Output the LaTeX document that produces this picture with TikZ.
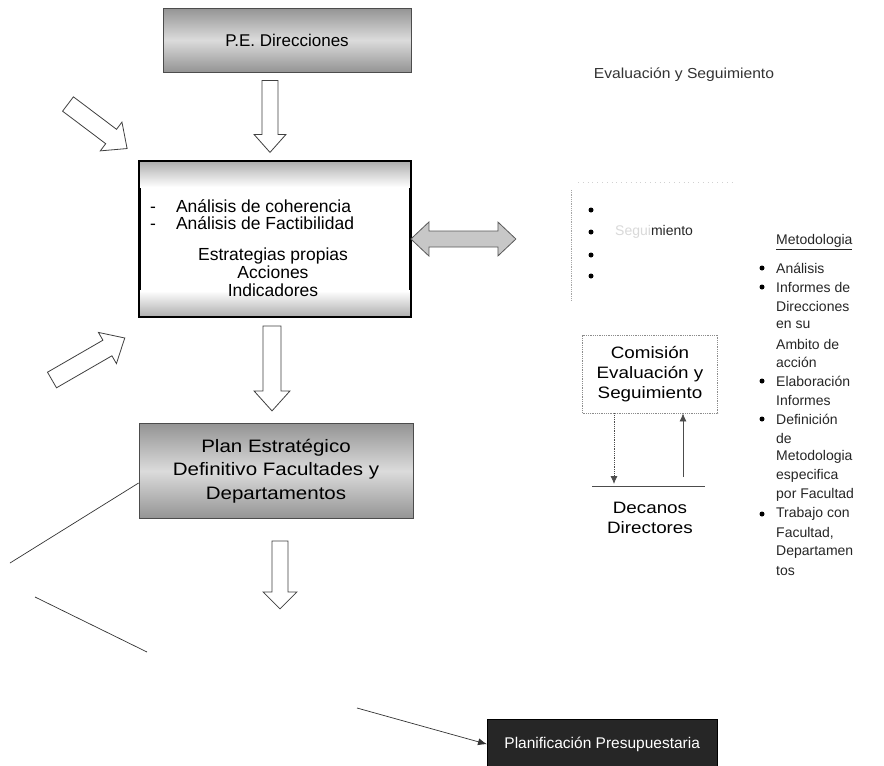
\documentclass[tikz,border=0pt]{standalone}
\usepackage{fontspec}
\setmainfont{Liberation Sans}
\newfontfamily\widefont[FakeStretch=1.14]{Liberation Sans}
\newfontfamily\semiwide[FakeStretch=1.08]{Liberation Sans}
\usetikzlibrary{calc,arrows.meta}
\tikzset{
  boxtxt/.style={font=\fontsize{17.5}{18}\selectfont, align=center, inner sep=0pt},
  sidetxt/.style={font=\fontsize{14}{18.8}\selectfont, inner sep=0pt, text=black!85},
  graybox/.style={draw=black!70, line width=0.8pt, top color=black!42, bottom color=black!42, middle color=black!14},
  mainbox/.style={draw=black, line width=1.8pt, fill=white},
  darkbox/.style={draw=black, fill=black!85, text=white},
  barrowstyle/.style={draw=black!75, line width=0.8pt, fill=white, line join=miter},
  darrowstyle/.style={draw=black!65, line width=0.8pt, fill=black!22},
  pics/barrow/.style n args={4}{code={
    \draw[barrowstyle] (0,-#2) -- ({#1-#4},-#2) -- ({#1-#4},-#3) -- (#1,0)
      -- ({#1-#4},#3) -- ({#1-#4},#2) -- (0,#2) -- cycle;}},
  pics/dbarrow/.style n args={4}{code={
    \draw[darrowstyle] (0,0) -- (#4,-#3) -- (#4,-#2) -- ({#1-#4},-#2) -- ({#1-#4},-#3)
      -- (#1,0) -- ({#1-#4},#3) -- ({#1-#4},#2) -- (#4,#2) -- (#4,#3) -- cycle;}},
  thinline/.style={draw=black!80, line width=0.7pt},
  bul/.style={circle, fill=black, inner sep=0pt, minimum size=5pt},
}
\begin{document}
\begin{tikzpicture}[x=1pt,y=-1pt]
\useasboundingbox[fill=white] (0,0) rectangle (884,766);

% P.E. box
\node[graybox, minimum width=248pt, minimum height=64pt, boxtxt, font=\fontsize{17}{18}\selectfont] (pe) at (287,40) {P.E. Direcciones};

% main box
\node[mainbox, minimum width=270pt, minimum height=154pt] (main) at (275,239) {};
\shade[top color=black!32, bottom color=white] (main.north west) rectangle ($(main.north east)+(0,26)$);
\shade[top color=white, bottom color=black!32] ($(main.south west)+(0,-26)$) rectangle (main.south east);
\draw[black, line width=1.8pt] (main.north west) rectangle (main.south east);
\node[boxtxt, anchor=west] (a1) at (150,206) {-\hspace{20pt}Análisis de coherencia};
\node[boxtxt, anchor=west] (a2) at (150,223) {-\hspace{20pt}Análisis de Factibilidad};
\node[boxtxt] (est) at (273,272) {Estrategias propias\\Acciones\\Indicadores};

% plan box
\node[graybox, minimum width=274pt, minimum height=95pt, boxtxt, font=\widefont\fontsize{18}{23.5}\selectfont] (plan) at (276,471)
  {Plan Estratégico\\Definitivo Facultades y\\Departamentos};

% presupuestaria
\node[darkbox, minimum width=230pt, minimum height=50pt, anchor=north west,
  font=\fontsize{15.5}{18}\selectfont] (pres) at (487,719) {Planificación Presupuestaria};

% block arrows
\pic[rotate=-90] at ($(pe.south -| 270,0)+(0,8)$) {barrow={72}{8}{16}{18}};
\pic[rotate=-90] at ($(main.south -| 272,0)+(0,9)$) {barrow={85}{9}{18}{20}};
\pic[rotate=-90] at ($(plan.south -| 280,0)+(0,22)$) {barrow={68}{8}{17}{17}};
\pic[rotate=-37] at (68,104) {barrow={74}{9}{18}{20}};
\pic[rotate=30] at (52,380) {barrow={84}{9}{18}{20}};
\pic at (main.east) {dbarrow={105}{8}{17}{18}};

% lines
\coordinate (l1a) at (10,563);
\coordinate (l2a) at (35,597);
\coordinate (l2b) at (147,652);
\coordinate (l3a) at (357,708);
\draw[thinline] ($(plan.west)+(0,12)$) -- (l1a);
\draw[thinline] (l2a) -- (l2b);
\draw[thinline, -{Latex[length=9pt,width=7pt]}] (l3a) -- (pres.west);

% right column
\node[inner sep=0pt, text=black!80, font=\semiwide\fontsize{14.5}{18}\selectfont] (evs) at (684,75) {Evaluación y Seguimiento};
\draw[black!35, densely dotted, line width=0.8pt] (571,190) coordinate (fb1) -- (571,300) coordinate (fb2);
\draw[black!18, loosely dotted, line width=0.8pt] (578,182) -- (735,182);
\foreach \yy [count=\i] in {210,232,255,276} \node[bul] (b\i) at (591,\yy) {};
\node[sidetxt, anchor=west] (segm) at (615,232) {\textcolor{black!15}{Segui}miento};

\node[sidetxt, anchor=west] (meto) at (776,242) {\underline{Metodologia}};
\foreach \t/\yy/\b [count=\i] in {Análisis/268/1, Informes de/287/1, Direcciones/306/0, en su/325/0,
   Ambito de/344/0, acción/362/0, Elaboración/381/1, Informes/400/0, Definición/419/1, de/438/0,
   Metodologia/457/0, especifica/476/0, por Facultad/495/0, Trabajo con/514/1, {Facultad,}/533/0,
   Departamen/552/0, tos/571/0}{
  \node[sidetxt, anchor=west] (m\i) at (776,\yy) {\t};
  \ifnum\b=1 \node[bul] (mb\i) at (762,\yy) {};\fi
}

\node[draw=black!45, densely dotted, line width=0.8pt, minimum width=135pt, minimum height=78pt,
  align=center, inner sep=0pt, font=\widefont\fontsize{16.5}{20}\selectfont] (com) at (650,374) {Comisión\\Evaluación y\\Seguimiento};
\coordinate (dl) at (592,486);
\coordinate (dr) at (705,486);
\draw[black!70, line width=0.8pt] (dl) -- (dr);
\draw[black!70, densely dotted, line width=0.8pt, -{Latex[length=8pt,width=7pt]}] (com.south -| 614,0) -- (614,484);
\draw[black!70, line width=0.8pt, -{Latex[length=8pt,width=7pt]}] (683,477) -- (com.south -| 683,0);
\node[align=center, inner sep=0pt, font=\widefont\fontsize{16.5}{20}\selectfont] (dec) at (650,518) {Decanos\\Directores};
\end{tikzpicture}
\end{document}
